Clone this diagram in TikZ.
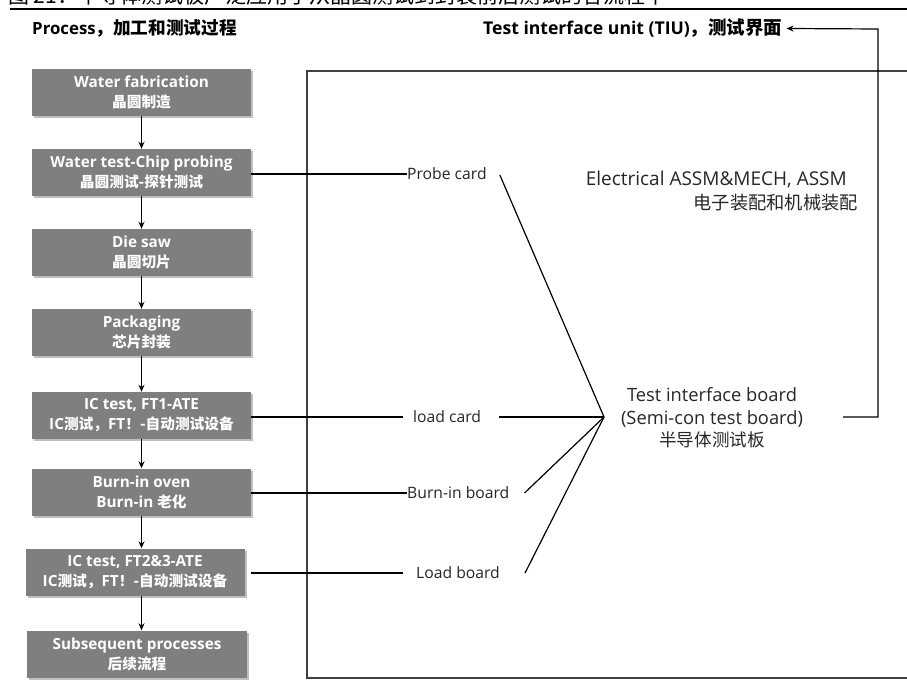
\documentclass[tikz,border=0pt]{standalone}
\usepackage{fontspec}
\setmainfont{Open Sans}
\newfontfamily\cjkfont[Scale=0.96]{Noto Sans CJK SC}
\newfontfamily\cjkhead[Scale=1.05]{Noto Sans CJK SC}
\newfontfamily\capfont{Noto Sans CJK SC}
\newcommand\zh[1]{{\cjkfont #1}}
\newcommand\zhh[1]{{\cjkhead #1}}
\usetikzlibrary{arrows.meta,shadows}
\definecolor{boxgray}{HTML}{7F7F7F}
\definecolor{framegray}{HTML}{404040}
\definecolor{txt}{HTML}{262626}
\tikzset{
  procbox/.style={fill=boxgray, text=white, font=\bfseries\fontsize{15.3}{20}\selectfont,
    minimum width=219pt, minimum height=47pt, inner sep=0pt, align=center,
    drop shadow={shadow xshift=2pt, shadow yshift=-2pt, fill=black, opacity=0.25}},
  flow/.style={line width=1.3pt, -{Stealth[length=7pt,width=6pt]}},
  link/.style={line width=1.2pt},
  lbl/.style={text=txt, font=\fontsize{15.7}{18}\selectfont, inner sep=0pt},
  head/.style={font=\bfseries\fontsize{16.8}{20}\selectfont, inner sep=0pt, anchor=west},
  frame/.style={draw=framegray, line width=1.5pt},
}
\begin{document}
\begin{tikzpicture}[x=1pt,y=-1pt]
\useasboundingbox (0,0) rectangle (907,684);
\clip (0,0) rectangle (907,684);

% clipped caption and rule
\node[anchor=base west, inner sep=0pt, font=\capfont\fontsize{21}{21}\selectfont] (cap) at (8,4)
  {图 21：半导体测试板广泛应用于从晶圆测试到封装前后测试的各流程中};
\draw[line width=2pt] (10,9) -- (907,9);

% headers
\node[head] (proc) at (32,28.5) {Process\zhh{，加工和测试过程}};
\node[head, font=\bfseries\fontsize{17.6}{20}\selectfont] (tiu) at (483,28.5) {Test interface unit (TIU)\zhh{，测试界面}};

% frame
\draw[frame] (920,71) -- (307,71) -- (307,678) -- (920,678);

% process boxes
\node[procbox] (b1) at (141.5,92.5) {Water fabrication\\\zh{晶圆制造}};
\node[procbox] (b2) at (141.5,172.5) {Water test-Chip probing\\\zh{晶圆测试-探针测试}};
\node[procbox] (b3) at (141.5,252.5) {Die saw\\\zh{晶圆切片}};
\node[procbox] (b4) at (141.5,332.5) {Packaging\\\zh{芯片封装}};
\node[procbox] (b5) at (141.5,415.5) {IC test, FT1-ATE\\IC\zh{测试，}FT\zh{！-自动测试设备}};
\node[procbox] (b6) at (141.5,492) {Burn-in oven\\Burn-in \zh{老化}};
\node[procbox] (b7) at (135,572) {IC test, FT2\&3-ATE\\IC\zh{测试，}FT\zh{！-自动测试设备}};
\node[procbox, minimum width=220pt] (b8) at (137,654) {Subsequent processes\\\zh{后续流程}};

\foreach \a/\b in {b1/b2,b2/b3,b3/b4,b4/b5,b5/b6,b6/b7}
  \draw[flow] (\a.south) -- (\a.south |- \b.north);
\draw[flow] (b7.south -| b6.south) -- (b6.south |- b8.north);

% labels
\node[lbl, anchor=west] (probe) at (407,174) {Probe card};
\node[lbl, anchor=west] (lcard) at (413,417) {load card};
\node[lbl, anchor=west] (burn) at (407,493) {Burn-in board};
\node[lbl, anchor=west] (lboard) at (416,573) {Load board};
\coordinate (hub) at (604,417);

\draw[link] (b2.east |- probe.west) -- (probe.west);
\draw[link] (b5.east |- lcard.west) -- ([xshift=-10pt]lcard.west);
\draw[link] (b6.east |- burn.west) -- (burn.west);
\draw[link] (b6.east |- lboard.west) -- ([xshift=-13pt]lboard.west);

\draw[link] ([xshift=13pt,yshift=-1pt]probe.east) -- (hub);
\draw[link] ([xshift=18pt]lcard.east) -- (hub);
\draw[link] ([xshift=15pt]burn.east) -- (hub);
\draw[link] ([xshift=25pt]lboard.east) -- (hub);

% text blocks
\node[text=txt, font=\fontsize{18.3}{22.5}\selectfont, align=center, inner sep=0pt] (tib) at (712,418)
  {Test interface board\\(Semi-con test board)\\\zh{半导体测试板}};
\node[text=txt, font=\fontsize{19}{24}\selectfont, align=right, inner sep=0pt, anchor=east] (elec) at (858,191)
  {Electrical ASSM\&MECH, ASSM\hspace*{11pt}\\\zh{电子装配和机械装配}};

% feedback arrow
\coordinate (fb0) at (843,417);
\coordinate (fb1) at (878,417);
\coordinate (fb2) at (878,29);
\draw[link, -{Stealth[length=7pt,width=6pt]}] (fb0) -- (fb1) -- (fb2) -- ([xshift=4pt]tiu.east);
\end{tikzpicture}
\end{document}
